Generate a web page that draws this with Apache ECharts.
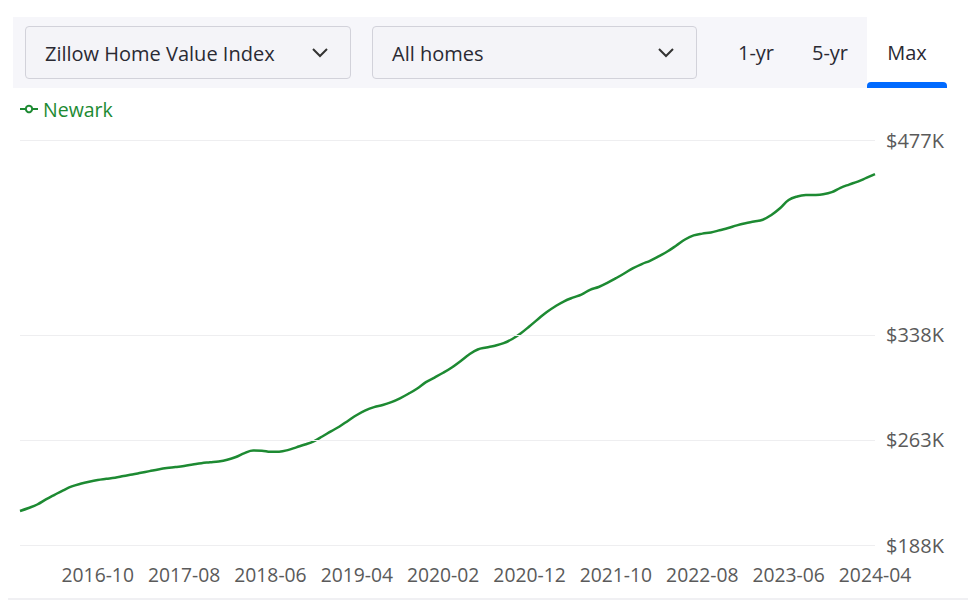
<!DOCTYPE html>
<html>
<head>
<meta charset="utf-8">
<script src="https://cdn.jsdelivr.net/npm/echarts@6/dist/echarts.min.js"></script>
<style>
  html, body { margin: 0; padding: 0; background: #fff; }
  body { width: 973px; height: 602px; position: relative; overflow: hidden; font-family: "Open Sans", "Noto Sans", sans-serif; }
  #chart { position: absolute; left: 0; top: 0; width: 973px; height: 602px; }
  .panel { position: absolute; left: 13px; top: 17px; width: 934px; height: 71px; background: #f6f6fa; }
  .dd { position: absolute; top: 26px; height: 53px; background: #f4f4f8; border: 1px solid #d2d2da; border-radius: 4px; box-sizing: border-box; color: #2a2a33; font-size: 20px; }
  .dd span { position: absolute; left: 19px; top: 50%; transform: translateY(-50%); white-space: nowrap; }
  .dd svg { position: absolute; top: 20px; }
  .tab { position: absolute; top: 40px; font-size: 20px; color: #2a2a33; transform: translateX(-50%); line-height: 26px; white-space: nowrap; }
  .maxbox { position: absolute; left: 867px; top: 17px; width: 80px; height: 71px; background: #fff; }
  .maxbar { position: absolute; left: 867px; top: 82px; width: 80px; height: 6px; background: #006aff; border-radius: 4px 4px 0 0; }
  .bottomline { position: absolute; left: 8px; top: 598px; width: 960px; height: 2px; background: #f0f0f3; }
</style>
</head>
<body>
<div id="chart"></div>
<div class="panel"></div>
<div class="dd" style="left:25px;width:326px;"><span>Zillow Home Value Index</span>
  <svg style="left:285px" width="18" height="12" viewBox="0 0 18 12"><polyline points="2,2 9,9 16,2" fill="none" stroke="#333" stroke-width="2"/></svg></div>
<div class="dd" style="left:372px;width:325px;"><span>All homes</span>
  <svg style="left:284px" width="18" height="12" viewBox="0 0 18 12"><polyline points="2,2 9,9 16,2" fill="none" stroke="#333" stroke-width="2"/></svg></div>
<div class="maxbox"></div>
<div class="maxbar"></div>
<div class="tab" style="left:756px;">1-yr</div>
<div class="tab" style="left:830px;">5-yr</div>
<div class="tab" style="left:907px;">Max</div>
<div class="bottomline"></div>
<script>
// ---- data ----
const seriesName = 'Newark';
const startYear = 2016, startMonth = 1, monthCount = 100; // 2016-01 .. 2024-04
const values = [
  212.3, 214.4, 216.9, 220.5, 223.8, 227.0, 229.8, 231.7, 233.2, 234.4,
  235.2, 236.0, 237.2, 238.3, 239.5, 240.7, 241.9, 242.9, 243.6, 244.4,
  245.4, 246.4, 247.0, 247.6, 248.8, 250.8, 253.6, 255.4, 255.3, 254.5,
  254.6, 255.7, 257.7, 259.7, 262.0, 265.4, 269.1, 272.6, 276.7, 280.8,
  284.1, 286.4, 287.9, 290.0, 292.7, 296.0, 299.7, 304.2, 307.5, 310.9,
  314.7, 319.2, 323.9, 327.5, 328.9, 330.2, 332.0, 335.0, 339.1, 344.1,
  349.3, 354.3, 358.4, 361.9, 364.5, 366.7, 370.1, 372.1, 375.0, 378.4,
  381.9, 385.6, 388.5, 391.0, 394.2, 397.6, 401.7, 406.0, 408.9, 410.2,
  411.0, 412.6, 414.2, 416.1, 417.6, 418.8, 420.1, 423.5, 428.3, 434.2,
  436.7, 437.7, 437.8, 438.3, 439.8, 442.9, 445.2, 447.3, 450.0, 452.7
];
const yTicks = [188, 263, 338, 477];
const yMin = 188, yMax = 477;

const categories = [];
for (let i = 0; i < monthCount; i++) {
  const m = startMonth - 1 + i;
  const y = startYear + Math.floor(m / 12);
  const mm = (m % 12) + 1;
  categories.push(y + '-' + (mm < 10 ? '0' + mm : mm));
}

const green = '#1d8a32';
const chart = echarts.init(document.getElementById('chart'), null, { renderer: 'svg' });
chart.setOption({
  animation: false,
  textStyle: { fontFamily: '"Open Sans", "Noto Sans", sans-serif' },
  legend: {
    left: 14, top: 94,
    itemWidth: 18, itemHeight: 8, itemGap: 10,
    textStyle: { color: green, fontSize: 19.5, fontFamily: '"Open Sans", sans-serif' },
    data: [seriesName]
  },
  grid: { left: 20, right: 98, top: 140, bottom: 57 },
  xAxis: {
    type: 'category',
    data: categories,
    boundaryGap: false,
    axisLine: { show: false },
    axisTick: { show: false },
    splitLine: { show: false },
    axisLabel: {
      interval: function (idx) { return idx % 10 === 9; },
      color: '#5a5a5a', fontSize: 19.3, margin: 20,
      fontFamily: '"Open Sans", sans-serif'
    }
  },
  yAxis: {
    type: 'value',
    position: 'right',
    min: yMin, max: yMax,
    axisLine: { show: false },
    axisTick: { show: false },
    splitLine: { show: false },
    axisLabel: {
      customValues: yTicks,
      color: '#5a5a5a', fontSize: 20, margin: 11,
      fontFamily: '"Open Sans", sans-serif',
      formatter: function (v) { return '$' + Math.round(v) + 'K'; }
    }
  },
  series: [{
    name: seriesName,
    type: 'line',
    data: values,
    smooth: 0.4,
    symbol: 'emptyCircle',
    symbolSize: 6,
    showSymbol: false,
    lineStyle: { color: green, width: 2.5 },
    itemStyle: { color: green },
    markLine: {
      silent: true,
      symbol: ['none', 'none'],
      label: { show: false },
      lineStyle: { color: '#eeeef0', width: 1, type: 'solid' },
      data: yTicks.map(function (t) { return { yAxis: t }; })
    },
    z: 3
  }]
});
</script>
</body>
</html>
